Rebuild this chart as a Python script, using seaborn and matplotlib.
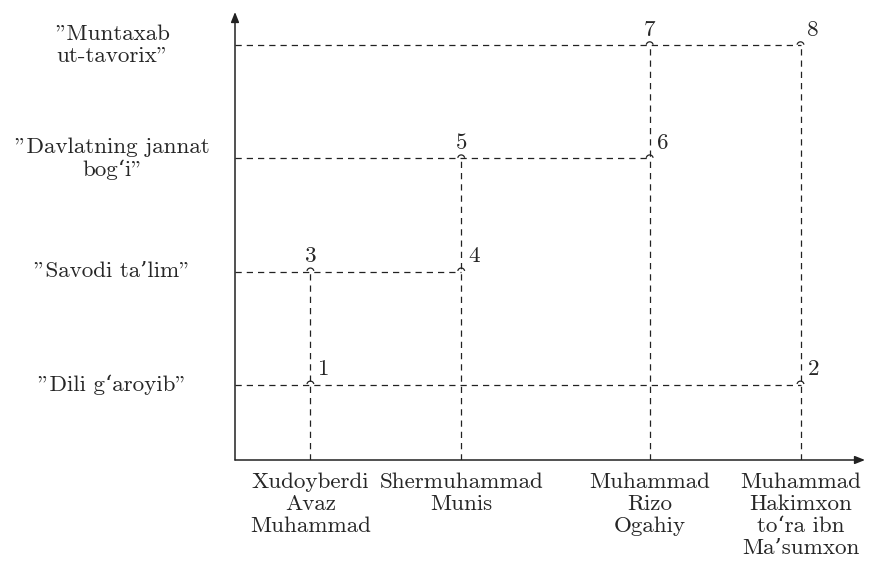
import matplotlib
matplotlib.use("Agg")

import matplotlib.pyplot as plt
import numpy as np
import pandas as pd
import seaborn as sns
from matplotlib.path import Path

# ── Data ─────────────────────────────────────────────────────────────────────
authors = [
    "Xudoyberdi\nAvaz\nMuhammad",
    "Shermuhammad\nMunis",
    "Muhammad\nRizo\nOgahiy",
    "Muhammad\nHakimxon\nto‘ra ibn\nMa’sumxon",
]
author_pos = [2, 6, 11, 15]

works = [
    "\"Dili g‘aroyib\"",
    "\"Savodi ta’lim\"",
    "\"Davlatning jannat\nbog‘i\"",
    "\"Muntaxab\nut-tavorix\"",
]
work_pos = [2, 5, 8, 11]

# point number -> (author index, work index)
point_ids = [1, 2, 3, 4, 5, 6, 7, 8]
point_author = [0, 3, 0, 1, 1, 2, 2, 3]
point_work = [0, 0, 1, 1, 2, 2, 3, 3]

# ── Style ────────────────────────────────────────────────────────────────────
sns.set_theme(style="white")
plt.rcParams["font.family"] = ["cmr10", "DejaVu Serif"]
plt.rcParams["axes.formatter.use_mathtext"] = True
FS = 16.6
LS = 1.16

df = pd.DataFrame({
    "id": point_ids,
    "x": [author_pos[i] for i in point_author],
    "y": [work_pos[i] for i in point_work],
})

fig = plt.figure(figsize=(8.74, 5.78), dpi=100)
W, H = 874, 578
x0, y0, x1, y1 = 235, 460, 865, 12
ax = fig.add_axes([x0 / W, 1 - y0 / H, (x1 - x0) / W, (y0 - y1) / H])
unit = 37.7
ax.set_xlim(0, (x1 - x0) / unit)
ax.set_ylim(0, (y0 - y1) / unit)
for s in ax.spines.values():
    s.set_visible(False)

dash = dict(color="#222222", lw=0.9, ls=(0, (5, 4)), zorder=1)

# horizontal guides: from y axis to the rightmost point of each level
for yv, grp in df.groupby("y"):
    ax.plot([0, grp["x"].max()], [yv, yv], **dash)
# vertical guides: from x axis to the topmost point of each column
for xv, grp in df.groupby("x"):
    ax.plot([xv, xv], [0, grp["y"].max()], **dash)

# point markers: small arrow-tip arcs
arc = Path.arc(10, 170)
sns.scatterplot(data=df, x="x", y="y", marker=arc, s=25, facecolor="none",
                edgecolor="#222222", linewidth=0.9, ax=ax, zorder=3, legend=False)

# point numbers: above for the upper-left corners, otherwise to the right
for _, r in df.iterrows():
    if r["id"] in (3, 5, 7):
        ax.annotate(str(r["id"]), (r["x"], r["y"]), xytext=(0, 4),
                    textcoords="offset points", ha="center", va="bottom", fontsize=FS)
    else:
        ax.annotate(str(r["id"]), (r["x"], r["y"]), xytext=(5, 4),
                    textcoords="offset points", ha="left", va="bottom", fontsize=FS)

# axes with arrows
arrow = dict(arrowstyle="-|>,head_length=0.5,head_width=0.2", color="#222222",
             lw=1.1, shrinkA=0, shrinkB=0)
ax.annotate("", xy=(ax.get_xlim()[1], 0), xytext=(0, 0), arrowprops=arrow,
            annotation_clip=False)
ax.annotate("", xy=(0, ax.get_ylim()[1]), xytext=(0, 0), arrowprops=arrow,
            annotation_clip=False)

ax.set_xticks(author_pos)
ax.set_xticklabels(authors, fontsize=FS, ha="center", va="top", linespacing=LS)
ax.set_yticks(work_pos)
ax.set_yticklabels(works, fontsize=FS, ha="center", va="center", linespacing=LS)
ax.tick_params(axis="x", length=0, pad=9)
ax.tick_params(axis="y", length=0, pad=88)
ax.set_xlabel("")
ax.set_ylabel("")

fig.savefig("out.png", dpi=100)
